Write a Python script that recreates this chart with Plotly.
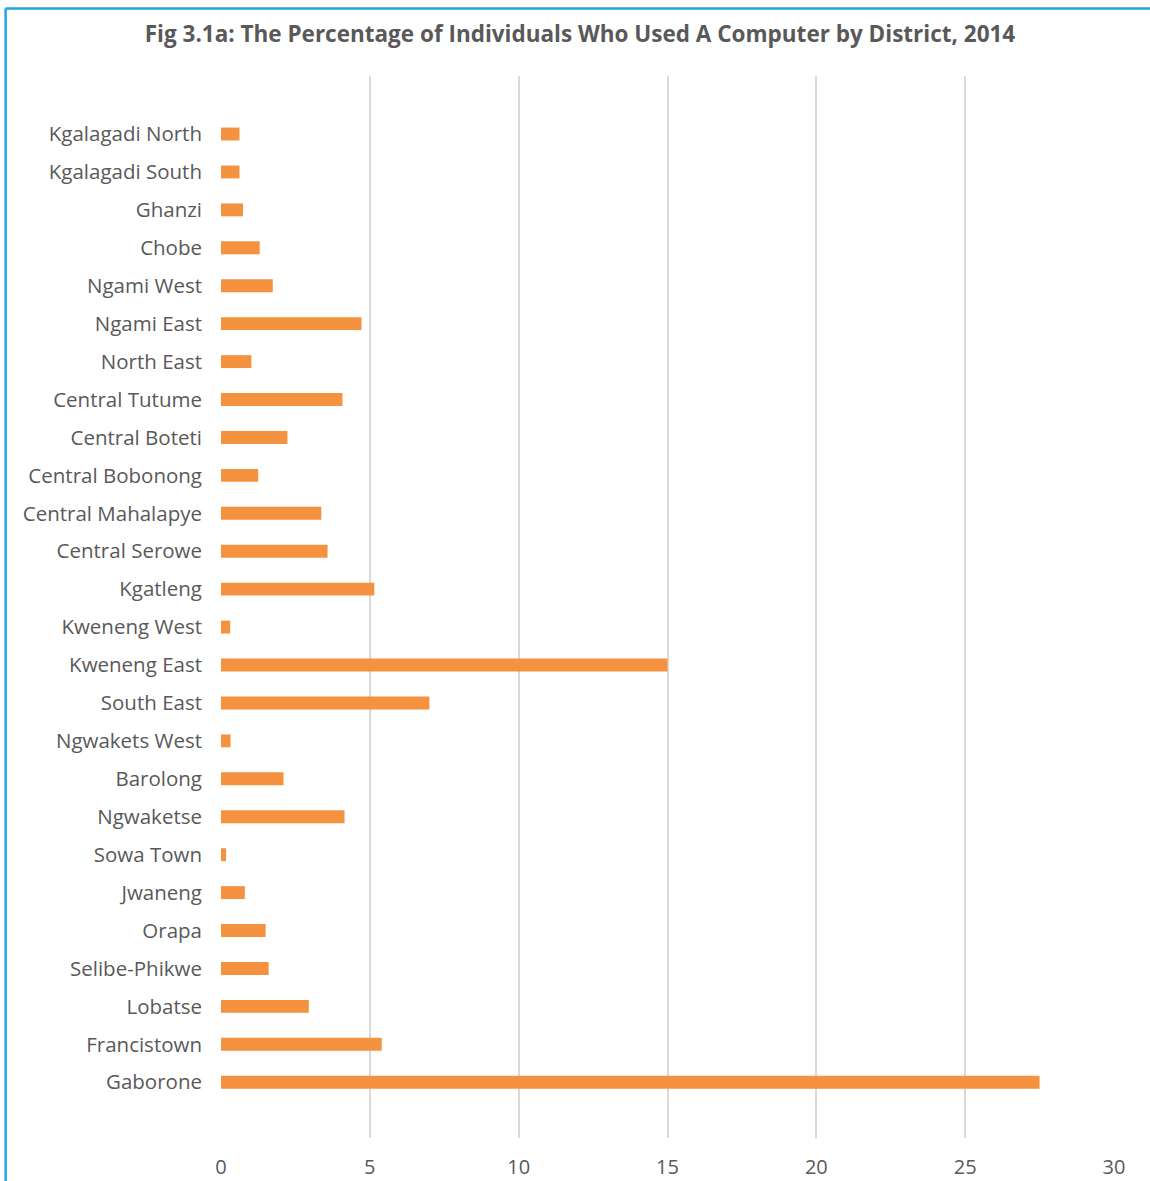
import plotly.graph_objects as go

# Districts listed bottom-to-top (Gaborone at the bottom of the chart)
districts = [
    "Gaborone", "Francistown", "Lobatse", "Selibe-Phikwe", "Orapa", "Jwaneng",
    "Sowa Town", "Ngwaketse", "Barolong", "Ngwakets West", "South East",
    "Kweneng East", "Kweneng West", "Kgatleng", "Central Serowe",
    "Central Mahalapye", "Central Bobonong", "Central Boteti", "Central Tutume",
    "North East", "Ngami East", "Ngami West", "Chobe", "Ghanzi",
    "Kgalagadi South", "Kgalagadi North",
]
pct_used_computer = [
    27.5, 5.4, 2.95, 1.6, 1.5, 0.8,
    0.17, 4.15, 2.1, 0.32, 7.0,
    15.0, 0.31, 5.15, 3.58,
    3.37, 1.25, 2.23, 4.08,
    1.02, 4.72, 1.74, 1.3, 0.74,
    0.62, 0.62,
]
x_ticks = [0, 5, 10, 15, 20, 25, 30]

TEXT = "#595959"
FONT = "Open Sans"

fig = go.Figure(
    go.Bar(
        x=pct_used_computer,
        y=districts,
        orientation="h",
        marker=dict(color="#F4923F", line=dict(width=0)),
        hoverinfo="x+y",
    )
)

# Plot-area pixel geometry used to place the frame lines
W, H = 1150, 1181
L, R, T, B = 220.5, 36, 76, 43
pw, ph = W - L - R, H - T - B


def px_x(px):
    return (px - L) / pw


def px_y(py):
    return (H - B - py) / ph


frame = dict(color="#22A7E2", width=2.5)
shapes = [
    dict(type="line", xref="paper", yref="paper",
         x0=px_x(5), x1=px_x(1200), y0=px_y(8.5), y1=px_y(8.5), line=frame),
    dict(type="line", xref="paper", yref="paper",
         x0=px_x(5), x1=px_x(5), y0=px_y(8.5), y1=px_y(1250), line=frame),
]

fig.update_layout(
    width=W, height=H,
    margin=dict(l=L, r=R, t=T, b=B, pad=0, autoexpand=False),
    paper_bgcolor="white",
    plot_bgcolor="white",
    bargap=0.66,
    showlegend=False,
    shapes=shapes,
    title=dict(
        text="<b>Fig 3.1a: The Percentage of Individuals Who Used A Computer by District, 2014</b>",
        x=580 / W, xanchor="center",
        y=1 - 34 / H, yanchor="middle",
        font=dict(family=FONT, size=22.5, color=TEXT),
    ),
    xaxis=dict(
        range=[0, 30],
        tickvals=x_ticks,
        ticktext=[str(v) for v in x_ticks],
        showgrid=True, gridcolor="#D9D9D9", gridwidth=2,
        zeroline=False, showline=False, ticks="",
        automargin=False,
        ticklabelstandoff=15,
        tickfont=dict(family=FONT, size=20, color=TEXT),
    ),
    yaxis=dict(
        type="category",
        categoryorder="array", categoryarray=districts,
        range=[-1.47, len(districts) + 0.53],
        showgrid=False, zeroline=False, showline=False, ticks="",
        automargin=False,
        ticklabelstandoff=18,
        tickfont=dict(family=FONT, size=20.5, color=TEXT),
    ),
)

fig.write_html("out.html")
